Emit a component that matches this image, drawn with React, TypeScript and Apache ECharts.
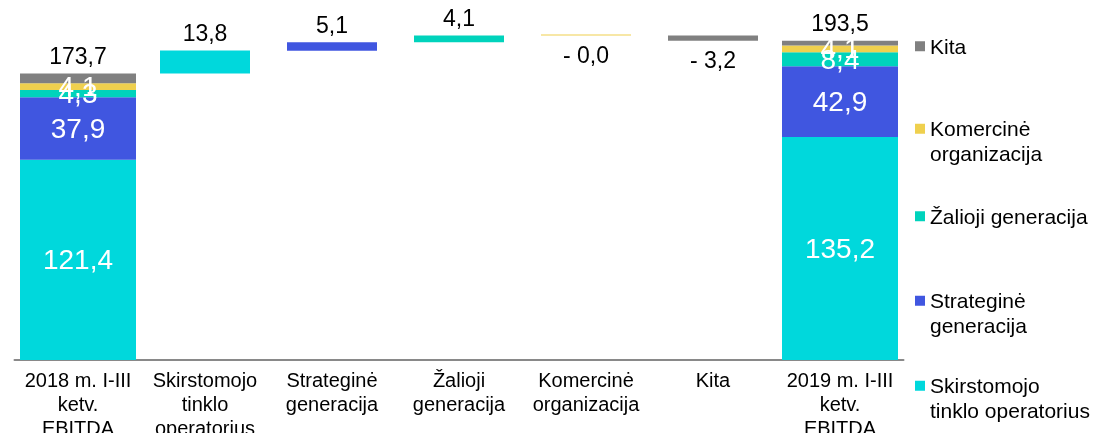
import React, { useEffect, useRef } from 'react';
import * as echarts from 'echarts';

const categories = [
  '2018 m. I-III\nketv.\nEBITDA',
  'Skirstomojo\ntinklo\noperatorius',
  'Strateginė\ngeneracija',
  'Žalioji\ngeneracija',
  'Komercinė\norganizacija',
  'Kita',
  '2019 m. I-III\nketv.\nEBITDA',
];
const segmentNames = [
  'Skirstomojo tinklo operatorius',
  'Strateginė generacija',
  'Žalioji generacija',
  'Komercinė organizacija',
  'Kita',
];
const legendLabels = [
  'Skirstomojo\ntinklo operatorius',
  'Strateginė\ngeneracija',
  'Žalioji generacija',
  'Komercinė\norganizacija',
  'Kita',
];
const segmentColors = ['#00D8DC', '#4056E0', '#00D3BC', '#EFD04E', '#808080'];
const values2018 = [121.4, 37.9, 4.3, 4.1, 6.0];
const values2019 = [135.2, 42.9, 8.4, 4.1, 2.9];
const deltas = [13.8, 5.1, 4.1, -0, -3.2];

const FONT = '"Liberation Sans", Arial, Helvetica, sans-serif';

const isNeg = (v: number) => v < 0 || Object.is(v, -0);
const fmt = (v: number) => {
  const s = Math.abs(v).toFixed(1).replace('.', ',');
  return isNeg(v) ? '- ' + s : s;
};

export default function App() {
  const ref = useRef<HTMLDivElement>(null);
  useEffect(() => {
    if (!ref.current) return;
    const chart = echarts.init(ref.current, null, { renderer: 'svg' });
    const n = categories.length;
    const total2018 = values2018.reduce((a, b) => a + b, 0);
    const total2019 = values2019.reduce((a, b) => a + b, 0);
    const totals = [total2018, total2019];

    // invisible base for floating bars
    const base: any[] = new Array(n).fill('-');
    let cum = total2018;
    deltas.forEach((d, k) => {
      const next = cum + d;
      base[k + 1] = Math.min(cum, next);
      cum = next;
    });

    const totalSeries = segmentNames.map((name, k) => {
      const data: any[] = new Array(n).fill('-');
      data[0] = values2018[k];
      data[n - 1] = values2019[k];
      const isKita = k === segmentNames.length - 1;
      return {
        name,
        type: 'bar',
        xAxisIndex: 0,
        stack: 'total',
        barWidth: 116,
        itemStyle: { color: segmentColors[k] },
        data,
        label: isKita
          ? {
              show: true,
              position: 'top',
              distance: 6,
              color: '#000',
              fontSize: 23,
              fontFamily: FONT,
              formatter: (p: any) => fmt(p.dataIndex === 0 ? totals[0] : totals[1]),
            }
          : {
              show: true,
              position: 'inside',
              color: '#fff',
              fontSize: 28,
              fontFamily: FONT,
              formatter: (p: any) => fmt(p.value),
            },
      };
    });

    const deltaSeries = segmentNames.map((name, k) => {
      const data: any[] = new Array(n).fill('-');
      data[k + 1] = Math.abs(deltas[k]);
      const neg = isNeg(deltas[k]);
      return {
        name,
        type: 'bar',
        xAxisIndex: 1,
        stack: 'delta',
        barWidth: 90,
        barMinHeight: 1,
        itemStyle: { color: segmentColors[k] },
        data,
        label: {
          show: true,
          position: neg ? 'bottom' : 'top',
          distance: neg ? 8 : 6,
          color: '#000',
          fontSize: 23,
          fontFamily: FONT,
          formatter: () => fmt(deltas[k]),
        },
      };
    });

    const legendTops = [349, 264, 204, 92, 34];
    const legends = segmentNames.map((name, k) => {
      const twoLine = legendLabels[k].includes('\n');
      return {
        data: [name],
        left: 915,
        top: legendTops[k],
        orient: 'vertical',
        padding: 0,
        itemWidth: 10,
        itemHeight: 10,
        itemGap: 0,
        icon: 'rect',
        selectedMode: false,
        // leading blank line keeps the first text line level with the icon
        formatter: () => (twoLine ? '\n' : '') + legendLabels[k],
        textStyle: {
          fontSize: 21,
          lineHeight: 24.5,
          color: '#000',
          fontFamily: FONT,
        },
      };
    });

    chart.setOption({
      animation: false,
      textStyle: { fontFamily: FONT },
      grid: { left: 14.5, right: 192.5, top: 30, bottom: 73, containLabel: false, outerBoundsMode: 'none' },
      legend: legends,
      xAxis: [
        {
          type: 'category',
          data: categories,
          axisLine: { show: true, lineStyle: { color: '#898989', width: 2 } },
          axisTick: { show: false },
          axisLabel: {
            interval: 0,
            margin: 8,
            color: '#000',
            fontSize: 20,
            lineHeight: 24,
            fontFamily: FONT,
          },
        },
        {
          type: 'category',
          data: categories,
          show: false,
        },
      ],
      yAxis: {
        type: 'value',
        min: 0,
        max: 200,
        show: false,
        splitLine: { show: false },
      },
      series: [
        ...totalSeries,
        {
          name: 'base',
          type: 'bar',
          xAxisIndex: 1,
          stack: 'delta',
          barWidth: 90,
          silent: true,
          itemStyle: { color: 'rgba(0,0,0,0)' },
          data: base,
        },
        ...deltaSeries,
      ],
    });
    return () => chart.dispose();
  }, []);
  return (
    <div
      ref={ref}
      style={{ position: 'fixed', left: 0, top: 0, width: 1096, height: 433 }}
    />
  );
}
